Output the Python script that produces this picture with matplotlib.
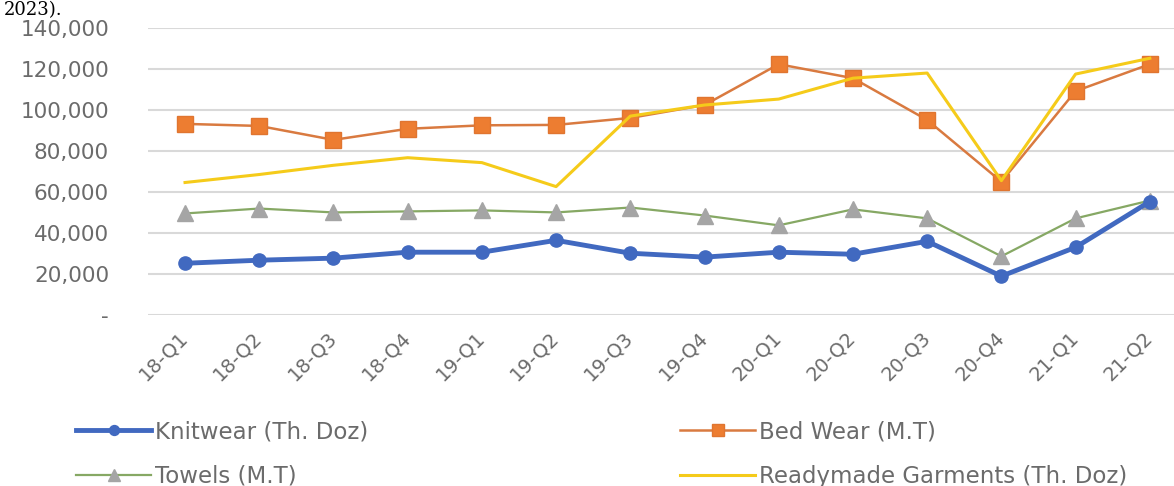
import matplotlib.pyplot as plt
from matplotlib.ticker import FuncFormatter

quarters = ['18-Q1', '18-Q2', '18-Q3', '18-Q4', '19-Q1', '19-Q2', '19-Q3',
            '19-Q4', '20-Q1', '20-Q2', '20-Q3', '20-Q4', '21-Q1', '21-Q2']
knitwear = [25200, 26700, 27700, 30600, 30600, 36400, 30100,
            28200, 30600, 29600, 35900, 18900, 33000, 55300]
bed_wear = [93200, 92200, 85400, 90800, 92500, 92700, 96100,
            102400, 122300, 115500, 95100, 65000, 109200, 122300]
towels = [49500, 51900, 50000, 50500, 51000, 50000, 52400,
          48500, 43700, 51500, 47100, 28600, 47100, 55800]
readymade = [64600, 68500, 73000, 76700, 74300, 62600, 97000,
             102400, 105300, 115500, 118000, 65500, 117500, 125200]
yticks = [0, 20000, 40000, 60000, 80000, 100000, 120000, 140000]

gray = '#6b6b6b'
fig = plt.figure(figsize=(11.74, 4.86), dpi=100)
ax = fig.add_axes([0.126, 0.352, 0.885, 0.5905])

x = range(len(quarters))
l1, = ax.plot(x, knitwear, color='#4169C0', lw=3.5, marker='o', ms=9.5,
              label='Knitwear (Th. Doz)', zorder=4)
l2, = ax.plot(x, bed_wear, color='#D97A40', lw=1.8, marker='s', ms=12,
              mfc='#ED7D31', mec='#E07530', label='Bed Wear (M.T)', zorder=5)
l3, = ax.plot(x, towels, color='#86A864', lw=1.6, marker='^', ms=11,
              mfc='#A5A5A5', mec='#A5A5A5', label='Towels (M.T)', zorder=3)
l4, = ax.plot(x, readymade, color='#F5CB1A', lw=2.2,
              label='Readymade Garments (Th. Doz)', zorder=6)

ax.set_xlim(-0.5, len(quarters) - 0.5)
ax.set_ylim(0, 140000)
ax.set_yticks(yticks)
ax.yaxis.set_major_formatter(FuncFormatter(lambda v, p: '-' if v == 0 else f'{int(v):,}'))
ax.set_xticks(list(x))
ax.set_xticklabels(quarters, rotation=45, ha='right', va='center',
                   rotation_mode='anchor')
ax.grid(axis='y', color='#d9d9d9', lw=1.5)
ax.set_axisbelow(True)
for s in ax.spines.values():
    s.set_visible(False)
ax.tick_params(axis='y', length=0, pad=28, labelsize=15.5, labelcolor=gray)
ax.tick_params(axis='x', length=0, pad=14, labelsize=14, labelcolor=gray)

fig.legend([l1, l3, l2, l4], [h.get_label() for h in [l1, l3, l2, l4]],
           ncol=2, loc='upper left', bbox_to_anchor=(0.047, 0.178),
           frameon=False, fontsize=16.5, labelcolor=gray, handlelength=3.3,
           handletextpad=0.15, columnspacing=13.6, labelspacing=0.95,
           markerscale=0.75)

fig.text(0.003, 0.998, '2023).', fontsize=13, family='DejaVu Serif',
         va='top', ha='left')

fig.savefig('out.png')
